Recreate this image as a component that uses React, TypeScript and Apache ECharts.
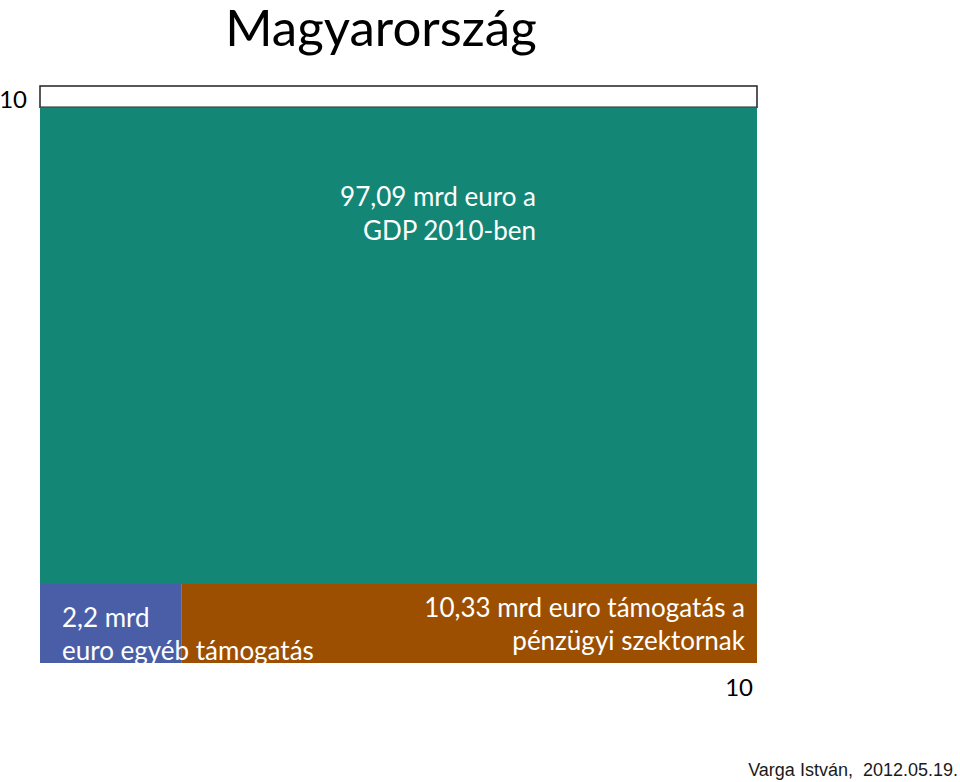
import React, { useEffect, useRef } from "react";
import * as echarts from "echarts";

const titleText = "Magyarország";
const footerText = "Varga István,  2012.05.19.";
const axisMax = 10;
const blockNames = ["maradék", "GDP", "egyéb", "pénzügyi"];
const blockX0 = [0, 0, 0, 1.97];
const blockX1 = [10, 10, 1.97, 10];
const blockY0 = [9.63, 1.37, 0, 0];
const blockY1 = [10, 9.63, 1.37, 1.37];
const blockColors = ["#ffffff", "#138676", "#4a5ea8", "#9c4f00"];
const labelGdp = ["97,09 mrd euro a", "GDP 2010-ben"];
const labelOther = ["2,2 mrd", "euro egyéb támogatás"];
const labelFin = ["10,33 mrd euro támogatás a", "pénzügyi szektornak"];

const FONT = "Lato, 'Open Sans', sans-serif";

export default function App() {
  const ref = useRef<HTMLDivElement>(null);
  useEffect(() => {
    if (!ref.current) return;
    const chart = echarts.init(ref.current, undefined, { renderer: "svg" });
    const data = blockNames.map((n, i) => ({
      name: n,
      value: [blockX0[i], blockX1[i], blockY0[i], blockY1[i]],
      itemStyle: { color: blockColors[i] },
    }));
    chart.setOption({
      animation: false,
      backgroundColor: "#ffffff",
      grid: {
        left: 40,
        right: 203,
        top: 86,
        bottom: 119,
        containLabel: false,
        outerBoundsMode: "none",
      },
      xAxis: {
        type: "value",
        min: 0,
        max: axisMax,
        interval: axisMax,
        axisLine: { show: false },
        axisTick: { show: false },
        splitLine: { show: false },
        axisLabel: {
          formatter: (v: number) => (v === axisMax ? String(axisMax) : ""),
          fontFamily: FONT,
          fontSize: 24,
          color: "#000",
          align: "right",
          margin: 11,
          padding: [0, 4, 0, 0],
        },
      },
      yAxis: {
        type: "value",
        min: 0,
        max: axisMax,
        interval: axisMax,
        axisLine: { show: false },
        axisTick: { show: false },
        splitLine: { show: false },
        axisLabel: {
          formatter: (v: number) => (v === axisMax ? String(axisMax) : ""),
          fontFamily: FONT,
          fontSize: 24,
          color: "#000",
          verticalAlign: "top",
          margin: 13,
        },
      },
      series: [
        {
          type: "custom",
          data,
          renderItem: (params: any, api: any) => {
            const p0 = api.coord([api.value(0), api.value(2)]);
            const p1 = api.coord([api.value(1), api.value(3)]);
            const isStrip = params.dataIndex === 0;
            return {
              type: "rect",
              shape: {
                x: p0[0],
                y: p1[1],
                width: p1[0] - p0[0],
                height: p0[1] - p1[1],
              },
              style: {
                fill: blockColors[params.dataIndex],
                stroke: isStrip ? "#222" : null,
                lineWidth: isStrip ? 1.5 : 0,
              },
            };
          },
        },
      ],
      graphic: [
        {
          type: "text",
          x: 381,
          y: 1,
          z: 100,
          style: {
            text: titleText,
            fontFamily: FONT,
            fontSize: 51,
            fill: "#000",
            align: "center",
          },
        },
        {
          type: "text",
          x: 536,
          y: 179,
          z: 100,
          style: {
            text: labelGdp.join("\n"),
            fontFamily: FONT,
            fontSize: 26,
            lineHeight: 34,
            fill: "#ffffff",
            align: "right",
          },
        },
        {
          type: "text",
          x: 62,
          y: 600,
          z: 100,
          style: {
            text: labelOther.join("\n"),
            fontFamily: FONT,
            fontSize: 26,
            lineHeight: 33,
            fill: "#ffffff",
            align: "left",
          },
        },
        {
          type: "text",
          x: 745,
          y: 590,
          z: 100,
          style: {
            text: labelFin.join("\n"),
            fontFamily: FONT,
            fontSize: 26,
            lineHeight: 33,
            fill: "#ffffff",
            align: "right",
          },
        },
        {
          type: "text",
          x: 958,
          y: 761,
          z: 100,
          style: {
            text: footerText,
            fontFamily: "'Liberation Sans', Arial, sans-serif",
            fontSize: 18,
            fill: "#1a1a1a",
            align: "right",
          },
        },
      ],
    });
    return () => chart.dispose();
  }, []);
  return (
    <div
      ref={ref}
      style={{ position: "fixed", left: 0, top: 0, width: 960, height: 782 }}
    />
  );
}
